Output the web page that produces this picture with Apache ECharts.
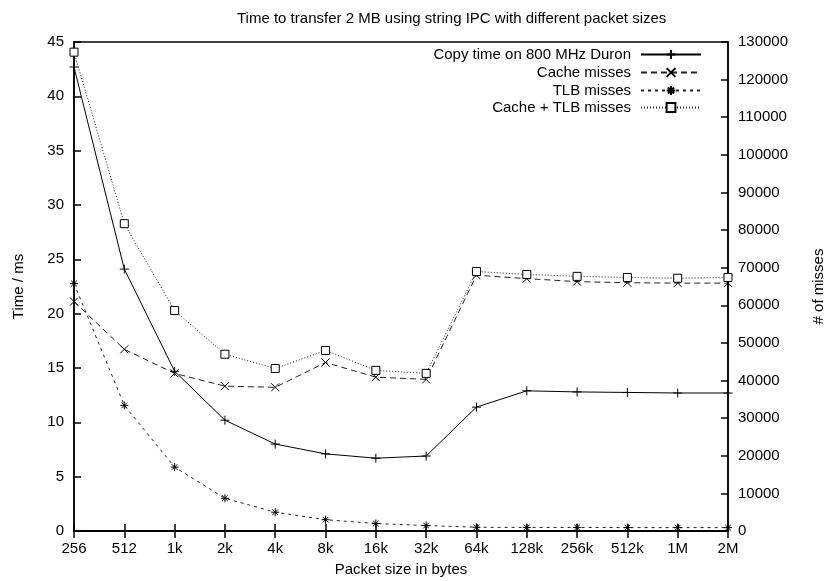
<!DOCTYPE html>
<html>
<head>
<meta charset="utf-8">
<script src="https://cdn.jsdelivr.net/npm/echarts@6/dist/echarts.min.js"></script>
<style>html,body{margin:0;padding:0;background:#fff}#c{width:832px;height:581px}</style>
</head>
<body>
<div id="c"></div>
<script>
var categories = ['256','512','1k','2k','4k','8k','16k','32k','64k','128k','256k','512k','1M','2M'];
var copyTime = [42.7, 24.1, 14.7, 10.2, 8.0, 7.1, 6.7, 6.9, 11.4, 12.9, 12.8, 12.75, 12.7, 12.7];
var cacheMisses = [61000, 48300, 41900, 38500, 38200, 44800, 40900, 40300, 68000, 67100, 66300, 66000, 65900, 65900];
var tlbMisses = [65800, 33400, 17000, 8700, 5000, 3000, 2000, 1450, 1000, 950, 950, 900, 900, 900];
var cacheTlbMisses = [127300, 81700, 58600, 47000, 43200, 48000, 42700, 41900, 69000, 68200, 67700, 67400, 67200, 67400];
var leftTicks = [0, 45, 5];
var rightTicks = [0, 130000, 10000];
var names = ['Copy time on 800 MHz Duron', 'Cache misses', 'TLB misses', 'Cache + TLB misses'];

var FONT = 'Liberation Sans';
var FS = 15;
var symPlus = 'path://M0,5L10,5M5,0L5,10';
var symCross = 'path://M0,0L10,10M10,0L0,10';
var symStar = 'path://M0,5L10,5M5,0L5,10M1.5,1.5L8.5,8.5M8.5,1.5L1.5,8.5';
var symSquare = 'path://M0,0L10,0L10,10L0,10Z';

function mkSeries(name, data, yIdx, dash, sym, size, fill, lc) {
  return {
    name: name, type: 'line', data: data, yAxisIndex: yIdx,
    symbol: sym, symbolSize: size, showAllSymbols: true, showSymbol: true,
    animation: false,
    lineStyle: {color: lc, width: 1, type: dash},
    itemStyle: {color: fill, borderColor: '#000', borderWidth: 1}
  };
}

var legendTops = [47, 65, 83, 100];
var chart = echarts.init(document.getElementById('c'));
chart.setOption({
  animation: false,
  backgroundColor: '#fff',
  title: {text: 'Time to transfer 2 MB using string IPC with different packet sizes', left: 232, top: 6,
    textStyle: {fontFamily: FONT, fontSize: FS, fontWeight: 'normal', color: '#000'}},
  legend: names.map(function (n, i) {
    return {data: [n], right: 130, top: legendTops[i], align: 'right', itemWidth: 60, itemHeight: 11, padding: 0,
      textStyle: {fontFamily: FONT, fontSize: FS, color: '#000', padding: [0, 5, 0, 0]}, selectedMode: false};
  }),
  grid: {left: 74, right: 104, top: 42, bottom: 50, outerBoundsMode: 'none', containLabel: false,
    show: true, borderColor: '#000', borderWidth: 1.5, backgroundColor: 'transparent'},
  xAxis: [{
    type: 'category', data: categories, boundaryGap: false, position: 'bottom',
    name: 'Packet size in bytes', nameLocation: 'middle', nameGap: 31,
    nameTextStyle: {fontFamily: FONT, fontSize: FS, color: '#000'},
    axisLine: {lineStyle: {color: '#000', width: 1.5}},
    axisTick: {inside: true, length: 7, lineStyle: {color: '#000', width: 1.5}, alignWithLabel: true},
    axisLabel: {fontFamily: FONT, fontSize: FS, color: '#000', margin: 10, interval: 0},
    splitLine: {show: false}
  }, {
    type: 'category', data: categories, boundaryGap: false, position: 'top',
    axisLine: {lineStyle: {color: '#000', width: 1.5}},
    axisTick: {inside: true, length: 7, lineStyle: {color: '#000', width: 1.5}},
    axisLabel: {show: false}, splitLine: {show: false}
  }],
  yAxis: [{
    type: 'value', min: leftTicks[0], max: leftTicks[1], interval: leftTicks[2], position: 'left',
    name: 'Time / ms', nameLocation: 'middle', nameGap: 48, nameRotate: 90,
    nameTextStyle: {fontFamily: FONT, fontSize: FS, color: '#000'},
    axisLine: {show: true, lineStyle: {color: '#000', width: 1.5}},
    axisTick: {show: true, inside: true, length: 7, lineStyle: {color: '#000', width: 1.5}},
    axisLabel: {fontFamily: FONT, fontSize: FS, color: '#000', margin: 10},
    splitLine: {show: false}
  }, {
    type: 'value', min: rightTicks[0], max: rightTicks[1], interval: rightTicks[2], position: 'right',
    name: '# of misses', nameLocation: 'middle', nameGap: 83, nameRotate: 90,
    nameTextStyle: {fontFamily: FONT, fontSize: FS, color: '#000'},
    axisLine: {show: true, lineStyle: {color: '#000', width: 1.5}},
    axisTick: {show: true, inside: true, length: 7, lineStyle: {color: '#000', width: 1.5}},
    axisLabel: {fontFamily: FONT, fontSize: FS, color: '#000', margin: 10, formatter: function (v) { return String(v); }},
    splitLine: {show: false}
  }],
  series: [
    mkSeries(names[0], copyTime, 0, 'solid', symPlus, 9, 'none', '#000'),
    mkSeries(names[1], cacheMisses, 1, [6, 4], symCross, 8, 'none', '#222'),
    mkSeries(names[2], tlbMisses, 1, [3, 4], symStar, 8, 'none', '#222'),
    mkSeries(names[3], cacheTlbMisses, 1, [1, 2], symSquare, 8, '#fff', '#222')
  ]
});
</script>
</body>
</html>
